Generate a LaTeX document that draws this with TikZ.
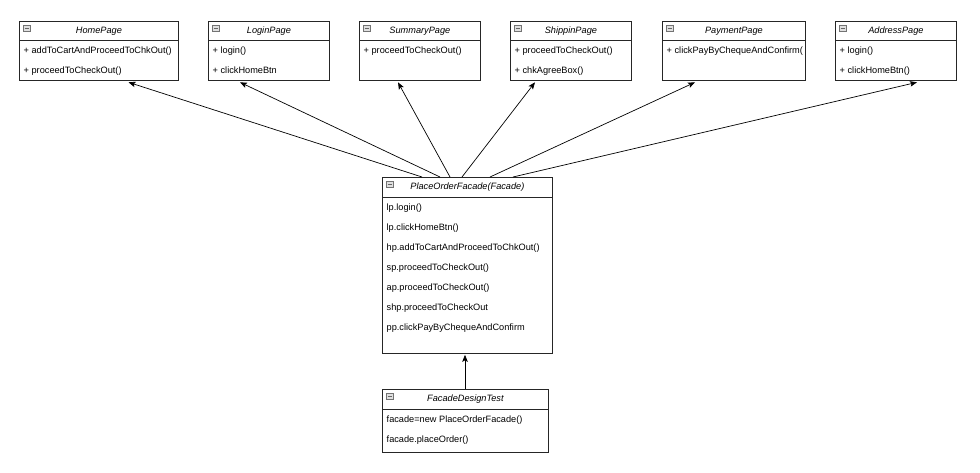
\documentclass[tikz,border=0pt]{standalone}
\usepackage{fontspec}
\setmainfont{Liberation Sans}
\usetikzlibrary{arrows.meta,calc}
\tikzset{
  cls/.style={draw=black!85, line width=0.8pt, fill=white, rectangle, inner sep=0pt, anchor=north west},
  sep/.style={draw=black!85, line width=0.8pt},
  ttl/.style={font=\fontsize{9.2}{11}\selectfont\itshape, inner sep=0pt},
  itm/.style={font=\fontsize{9.2}{11}\selectfont, inner sep=0pt, anchor=base west},
  icon/.style={draw=black!55, fill=black!12, line width=0.5pt, minimum width=7pt, minimum height=6pt, inner sep=0pt,
    path picture={\draw[black!60, line width=0.6pt] ([xshift=1.5pt]path picture bounding box.west) -- ([xshift=-1.5pt]path picture bounding box.east);}},
  conn/.style={draw=black, line width=0.7pt, -{Stealth[length=7pt,width=5.5pt,inset=1.5pt]}}
}
\newcommand\umlclass[7]{%
  \node[cls, minimum width={(#4-#2)*1pt}, minimum height={(#5-#3)*1pt}] (#1) at (#2,#3) {};
  \draw[sep] ([yshift=-20pt]#1.north west) -- ([yshift=-20pt]#1.north east);
  \node[icon] (#1-i) at ([xshift=7.5pt,yshift=-7.5pt]#1.north west) {};
  \node[ttl] (#1-t) at ([yshift=-10.5pt]#1.north) {#6};
  \foreach \t [count=\k] in {#7} {
    \node[itm] (#1-\k) at ([xshift=4.5pt,yshift={-(33.3+20*(\k-1))*1pt}]#1.north west) {\t};
  }%
}
\begin{document}
\begin{tikzpicture}[x=1pt,y=-1pt]
\fill[white] (0,0) rectangle (980,472);
\useasboundingbox (0,0) rectangle (980,472);

\umlclass{home}{19}{20.5}{178}{80}{HomePage}{+ addToCartAndProceedToChkOut(),+ proceedToCheckOut()}
\umlclass{login}{208}{20.5}{329}{80}{LoginPage}{+ login(),+ clickHomeBtn}
\umlclass{summary}{359}{20.5}{480}{80}{SummaryPage}{+ proceedToCheckOut()}
\umlclass{ship}{510}{20.5}{631}{80}{ShippinPage}{+ proceedToCheckOut(),+ chkAgreeBox()}
\umlclass{pay}{662}{20.5}{805}{80}{PaymentPage}{+ clickPayByChequeAndConfirm(}
\umlclass{addr}{835}{20.5}{956}{80}{AddressPage}{+ login(),+ clickHomeBtn()}

\umlclass{fac}{382}{177}{552}{353}{PlaceOrderFacade(Facade)}{lp.login(),lp.clickHomeBtn(),hp.addToCartAndProceedToChkOut(),sp.proceedToCheckOut(),ap.proceedToCheckOut(),shp.proceedToCheckOut,pp.clickPayByChequeAndConfirm}
\umlclass{test}{382}{389}{548}{452}{FacadeDesignTest}{facade=new PlaceOrderFacade(),facade.placeOrder()}

\draw[conn] ([xshift=40pt]fac.north west) -- ([xshift=109.5pt,yshift=-1.5pt]home.south west);
\draw[conn] ([xshift=58pt]fac.north west) -- ([xshift=32pt,yshift=-1.5pt]login.south west);
\draw[conn] ([xshift=68pt]fac.north west) -- ([xshift=39pt,yshift=-1.5pt]summary.south west);
\draw[conn] ([xshift=80pt]fac.north west) -- ([xshift=25pt,yshift=-1.5pt]ship.south west);
\draw[conn] ([xshift=108pt]fac.north west) -- ([xshift=33pt,yshift=-1.5pt]pay.south west);
\draw[conn] ([xshift=131pt]fac.north west) -- ([xshift=82pt,yshift=-1.5pt]addr.south west);
\draw[conn] ([xshift=83pt]test.north west) -- ([xshift=83pt,yshift=-1pt]fac.south west);
\end{tikzpicture}
\end{document}
